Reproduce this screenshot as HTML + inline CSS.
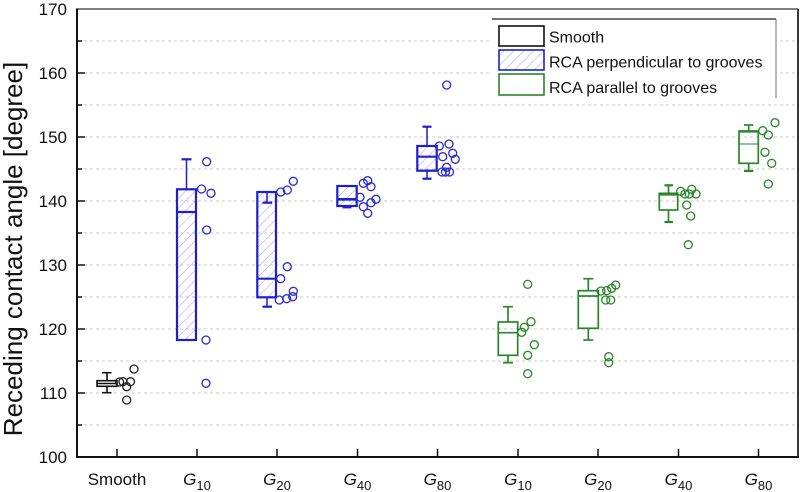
<!DOCTYPE html>
<html>
<head>
<meta charset="utf-8">
<style>
html,body{margin:0;padding:0;background:#fff;}
svg{display:block;}
text{font-family:"Liberation Sans",Arial,sans-serif;fill:#111;}
</style>
</head>
<body>
<svg width="800" height="492" viewBox="0 0 800 492" xmlns="http://www.w3.org/2000/svg">
<defs>
<pattern id="hatch" patternUnits="userSpaceOnUse" width="7" height="7" patternTransform="rotate(45)">
<line x1="0" y1="0" x2="0" y2="7" stroke="#a4a8ea" stroke-width="1.1"/>
</pattern>
</defs>
<rect width="800" height="492" fill="#fff"/>

<!-- gridlines -->
<g stroke="#c8c8c8" stroke-width="1" stroke-dasharray="3,3">
<line x1="78" y1="425" x2="797" y2="425"/>
<line x1="78" y1="393" x2="797" y2="393"/>
<line x1="78" y1="361" x2="797" y2="361"/>
<line x1="78" y1="329" x2="797" y2="329"/>
<line x1="78" y1="297" x2="797" y2="297"/>
<line x1="78" y1="265" x2="797" y2="265"/>
<line x1="78" y1="233" x2="797" y2="233"/>
<line x1="78" y1="201" x2="797" y2="201"/>
<line x1="78" y1="169" x2="797" y2="169"/>
<line x1="78" y1="137" x2="797" y2="137"/>
<line x1="78" y1="105" x2="797" y2="105"/>
<line x1="78" y1="73" x2="797" y2="73"/>
<line x1="78" y1="41" x2="797" y2="41"/>
</g>

<!-- frame -->
<line x1="77" y1="9" x2="798" y2="9" stroke="#555" stroke-width="1.5"/>
<line x1="798" y1="9" x2="798" y2="458" stroke="#222" stroke-width="1.8"/>
<line x1="77" y1="8.5" x2="77" y2="458" stroke="#111" stroke-width="2"/>
<line x1="76" y1="457" x2="799" y2="457" stroke="#111" stroke-width="2"/>

<!-- y ticks -->
<g stroke="#111" stroke-width="1.5">
<line x1="77" y1="393" x2="85" y2="393"/>
<line x1="77" y1="329" x2="85" y2="329"/>
<line x1="77" y1="265" x2="85" y2="265"/>
<line x1="77" y1="201" x2="85" y2="201"/>
<line x1="77" y1="137" x2="85" y2="137"/>
<line x1="77" y1="73" x2="85" y2="73"/>
<line x1="77" y1="425" x2="82" y2="425"/>
<line x1="77" y1="361" x2="82" y2="361"/>
<line x1="77" y1="297" x2="82" y2="297"/>
<line x1="77" y1="233" x2="82" y2="233"/>
<line x1="77" y1="169" x2="82" y2="169"/>
<line x1="77" y1="105" x2="82" y2="105"/>
<line x1="77" y1="41" x2="82" y2="41"/>
</g>
<!-- x ticks -->
<g stroke="#111" stroke-width="1.5">
<line x1="117" y1="457" x2="117" y2="449"/>
<line x1="197" y1="457" x2="197" y2="449"/>
<line x1="277" y1="457" x2="277" y2="449"/>
<line x1="357.5" y1="457" x2="357.5" y2="449"/>
<line x1="437.5" y1="457" x2="437.5" y2="449"/>
<line x1="518" y1="457" x2="518" y2="449"/>
<line x1="598" y1="457" x2="598" y2="449"/>
<line x1="678.5" y1="457" x2="678.5" y2="449"/>
<line x1="758.5" y1="457" x2="758.5" y2="449"/>
</g>

<!-- y tick labels -->
<g font-size="17" text-anchor="end">
<text x="67" y="463">100</text>
<text x="67" y="399">110</text>
<text x="67" y="335">120</text>
<text x="67" y="271">130</text>
<text x="67" y="207">140</text>
<text x="67" y="143">150</text>
<text x="67" y="79">160</text>
<text x="67" y="15">170</text>
</g>

<!-- x labels -->
<g font-size="17" text-anchor="middle">
<text x="117" y="485">Smooth</text>
<text x="197" y="485"><tspan font-style="italic">G</tspan><tspan font-size="13" dy="5">10</tspan></text>
<text x="277" y="485"><tspan font-style="italic">G</tspan><tspan font-size="13" dy="5">20</tspan></text>
<text x="357.5" y="485"><tspan font-style="italic">G</tspan><tspan font-size="13" dy="5">40</tspan></text>
<text x="437.5" y="485"><tspan font-style="italic">G</tspan><tspan font-size="13" dy="5">80</tspan></text>
<text x="518" y="485"><tspan font-style="italic">G</tspan><tspan font-size="13" dy="5">10</tspan></text>
<text x="598" y="485"><tspan font-style="italic">G</tspan><tspan font-size="13" dy="5">20</tspan></text>
<text x="678.5" y="485"><tspan font-style="italic">G</tspan><tspan font-size="13" dy="5">40</tspan></text>
<text x="758.5" y="485"><tspan font-style="italic">G</tspan><tspan font-size="13" dy="5">80</tspan></text>
</g>

<!-- y axis title -->
<text transform="translate(22,249) rotate(-90)" font-size="26" text-anchor="middle">Receding contact angle [degree]</text>

<!-- Smooth -->
<g stroke="#111" stroke-width="1.6" fill="none">
<line x1="107" y1="372.7" x2="107" y2="392.7"/>
<line x1="102" y1="372.7" x2="111.5" y2="372.7"/>
<line x1="102" y1="392.7" x2="111.5" y2="392.7"/>
<rect x="97" y="380.7" width="20" height="5.6" fill="#fff"/>
<line x1="97" y1="383.5" x2="117" y2="383.5"/>
</g>
<g stroke="#222" stroke-width="1.3" fill="none">
<circle cx="119.5" cy="382" r="4"/>
<circle cx="123" cy="381.7" r="4"/>
<circle cx="126.7" cy="386.7" r="4"/>
<circle cx="130.5" cy="381.7" r="4"/>
<circle cx="134" cy="369" r="4"/>
<circle cx="126.7" cy="400" r="4"/>
</g>

<!-- Perpendicular (blue) -->
<g stroke="#1f1fcf" stroke-width="2.2" fill="none">
<!-- G10 -->
<line x1="186.5" y1="159.3" x2="186.5" y2="189.3" stroke-width="1.5"/>
<line x1="181.5" y1="159.3" x2="191.5" y2="159.3"/>
<rect x="177" y="189.3" width="19" height="150.7" fill="url(#hatch)"/>
<line x1="177" y1="212" x2="196" y2="212"/>
<!-- G20 -->
<rect x="257.3" y="192" width="18.7" height="105.3" fill="url(#hatch)"/>
<line x1="267" y1="192" x2="267" y2="202.7" stroke-width="1.5"/>
<line x1="262.5" y1="202.7" x2="272" y2="202.7"/>
<line x1="257.3" y1="278.7" x2="276" y2="278.7"/>
<line x1="267" y1="297.3" x2="267" y2="306.7" stroke-width="1.5"/>
<line x1="262.5" y1="306.7" x2="272" y2="306.7"/>
<!-- G40 -->
<rect x="337.3" y="186" width="19.4" height="20" fill="url(#hatch)"/>
<line x1="337.3" y1="199.3" x2="356.7" y2="199.3" stroke-width="2.6"/>
<line x1="347" y1="206" x2="347" y2="207.3" stroke-width="1.5"/>
<line x1="342.5" y1="207.3" x2="351.5" y2="207.3"/>
<!-- G80 -->
<line x1="427" y1="126.7" x2="427" y2="146" stroke-width="1.5"/>
<line x1="422.5" y1="126.7" x2="431.5" y2="126.7"/>
<rect x="417.3" y="146" width="19.4" height="24.7" fill="url(#hatch)"/>
<line x1="417.3" y1="156.7" x2="436.7" y2="156.7"/>
<line x1="427" y1="170.7" x2="427" y2="178.7" stroke-width="1.5"/>
<line x1="422.5" y1="178.7" x2="431.5" y2="178.7"/>
</g>
<g stroke="#2a2ad0" stroke-width="1.3" fill="none">
<circle cx="206.7" cy="161.7" r="4"/>
<circle cx="201.5" cy="189" r="4"/>
<circle cx="211" cy="193.3" r="4"/>
<circle cx="206.7" cy="230" r="4"/>
<circle cx="206" cy="340" r="4"/>
<circle cx="206" cy="383.3" r="4"/>

<circle cx="280.7" cy="192" r="4"/>
<circle cx="287.3" cy="190" r="4"/>
<circle cx="293.3" cy="181.3" r="4"/>
<circle cx="287.3" cy="266.7" r="4"/>
<circle cx="280.7" cy="278.7" r="4"/>
<circle cx="279.3" cy="300" r="4"/>
<circle cx="286.7" cy="298.7" r="4"/>
<circle cx="292.7" cy="296.7" r="4"/>
<circle cx="293.3" cy="291.3" r="4"/>

<circle cx="363.3" cy="183.3" r="4"/>
<circle cx="367.7" cy="180.7" r="4"/>
<circle cx="371" cy="186.7" r="4"/>
<circle cx="360" cy="197.3" r="4"/>
<circle cx="376" cy="199.3" r="4"/>
<circle cx="371" cy="202.7" r="4"/>
<circle cx="363.3" cy="206.7" r="4"/>
<circle cx="367.7" cy="213.3" r="4"/>

<circle cx="446.7" cy="85" r="4"/>
<circle cx="439.3" cy="146" r="4"/>
<circle cx="449" cy="144" r="4"/>
<circle cx="452.7" cy="153.3" r="4"/>
<circle cx="455.3" cy="159.3" r="4"/>
<circle cx="442.7" cy="156.7" r="4"/>
<circle cx="446.7" cy="167.3" r="4"/>
<circle cx="442" cy="172" r="4"/>
<circle cx="445.5" cy="172" r="4"/>
<circle cx="449.5" cy="172" r="4"/>
</g>

<!-- Parallel (green) -->
<g stroke="#2a862a" stroke-width="1.7" fill="none">
<!-- G10 -->
<line x1="508" y1="306.7" x2="508" y2="322"/>
<line x1="503" y1="306.7" x2="513" y2="306.7"/>
<rect x="498.3" y="322" width="19.4" height="33.3"/>
<line x1="498.3" y1="332.7" x2="517.7" y2="332.7"/>
<line x1="508" y1="355.3" x2="508" y2="362.7"/>
<line x1="503" y1="362.7" x2="513" y2="362.7"/>
<!-- G20 -->
<line x1="588.3" y1="278.7" x2="588.3" y2="290.7"/>
<line x1="583.3" y1="278.7" x2="593.3" y2="278.7"/>
<rect x="578.3" y="290.7" width="20" height="37.6"/>
<line x1="578.3" y1="296" x2="598.3" y2="296"/>
<line x1="588.3" y1="328.3" x2="588.3" y2="340"/>
<line x1="583.3" y1="340" x2="593.3" y2="340"/>
<!-- G40 -->
<line x1="668.5" y1="185.3" x2="668.5" y2="193.3"/>
<line x1="664.5" y1="185.3" x2="673" y2="185.3" stroke-width="2.2"/>
<rect x="659.3" y="193.3" width="18.4" height="16.7"/>
<line x1="659.3" y1="194.5" x2="677.7" y2="194.5" stroke-width="2.2"/>
<line x1="668.5" y1="210" x2="668.5" y2="222"/>
<line x1="664.5" y1="222" x2="673" y2="222" stroke-width="2.2"/>
<!-- G80 -->
<line x1="748.7" y1="125" x2="748.7" y2="131"/>
<line x1="744" y1="125" x2="753.3" y2="125"/>
<rect x="739" y="131" width="19.3" height="32.3"/>
<line x1="739" y1="131.5" x2="758.3" y2="131.5" stroke-width="2.2"/>
<line x1="739" y1="144" x2="758.3" y2="144" stroke-width="1"/>
<line x1="748.7" y1="163.3" x2="748.7" y2="171"/>
<line x1="744" y1="171" x2="753.3" y2="171" stroke-width="2.2"/>
</g>
<g stroke="#2a862a" stroke-width="1.3" fill="none">
<circle cx="527.7" cy="284.3" r="4"/>
<circle cx="531" cy="321.7" r="4"/>
<circle cx="524.3" cy="327.3" r="4"/>
<circle cx="521.7" cy="332.3" r="4"/>
<circle cx="534.3" cy="344.7" r="4"/>
<circle cx="527.7" cy="355.3" r="4"/>
<circle cx="527.7" cy="373.7" r="4"/>

<circle cx="601" cy="291" r="4"/>
<circle cx="606.7" cy="290.7" r="4"/>
<circle cx="611.7" cy="288.3" r="4"/>
<circle cx="615.7" cy="285" r="4"/>
<circle cx="605.7" cy="300" r="4"/>
<circle cx="610.7" cy="300" r="4"/>
<circle cx="608.7" cy="356.7" r="4"/>
<circle cx="608.7" cy="362.7" r="4"/>

<circle cx="680.7" cy="191.3" r="4"/>
<circle cx="685" cy="194" r="4"/>
<circle cx="689.3" cy="194" r="4"/>
<circle cx="691.7" cy="189.3" r="4"/>
<circle cx="696" cy="194" r="4"/>
<circle cx="686.7" cy="205" r="4"/>
<circle cx="690.7" cy="216" r="4"/>
<circle cx="688.3" cy="244.7" r="4"/>

<circle cx="775" cy="122.7" r="4"/>
<circle cx="762.7" cy="130.7" r="4"/>
<circle cx="768.3" cy="135" r="4"/>
<circle cx="765" cy="152.3" r="4"/>
<circle cx="771.7" cy="163.3" r="4"/>
<circle cx="768.3" cy="184" r="4"/>
</g>

<!-- legend -->
<rect x="492" y="19" width="284" height="80" fill="#fff"/>
<line x1="492" y1="19" x2="776" y2="19" stroke="#444" stroke-width="1.5"/>
<line x1="776" y1="19" x2="776" y2="98" stroke="#888" stroke-width="1.2"/>
<rect x="499" y="26" width="45" height="20" fill="#fff" stroke="#111" stroke-width="1.6"/>
<rect x="499" y="50" width="45" height="20" fill="url(#hatch)" stroke="#1f1fcf" stroke-width="1.6"/>
<rect x="499" y="74" width="45" height="21" fill="#fff" stroke="#2a862a" stroke-width="1.6"/>
<g font-size="16">
<text x="549" y="42.5">Smooth</text>
<text x="549" y="67.5">RCA perpendicular to grooves</text>
<text x="549" y="93">RCA parallel to grooves</text>
</g>
</svg>
</body>
</html>
